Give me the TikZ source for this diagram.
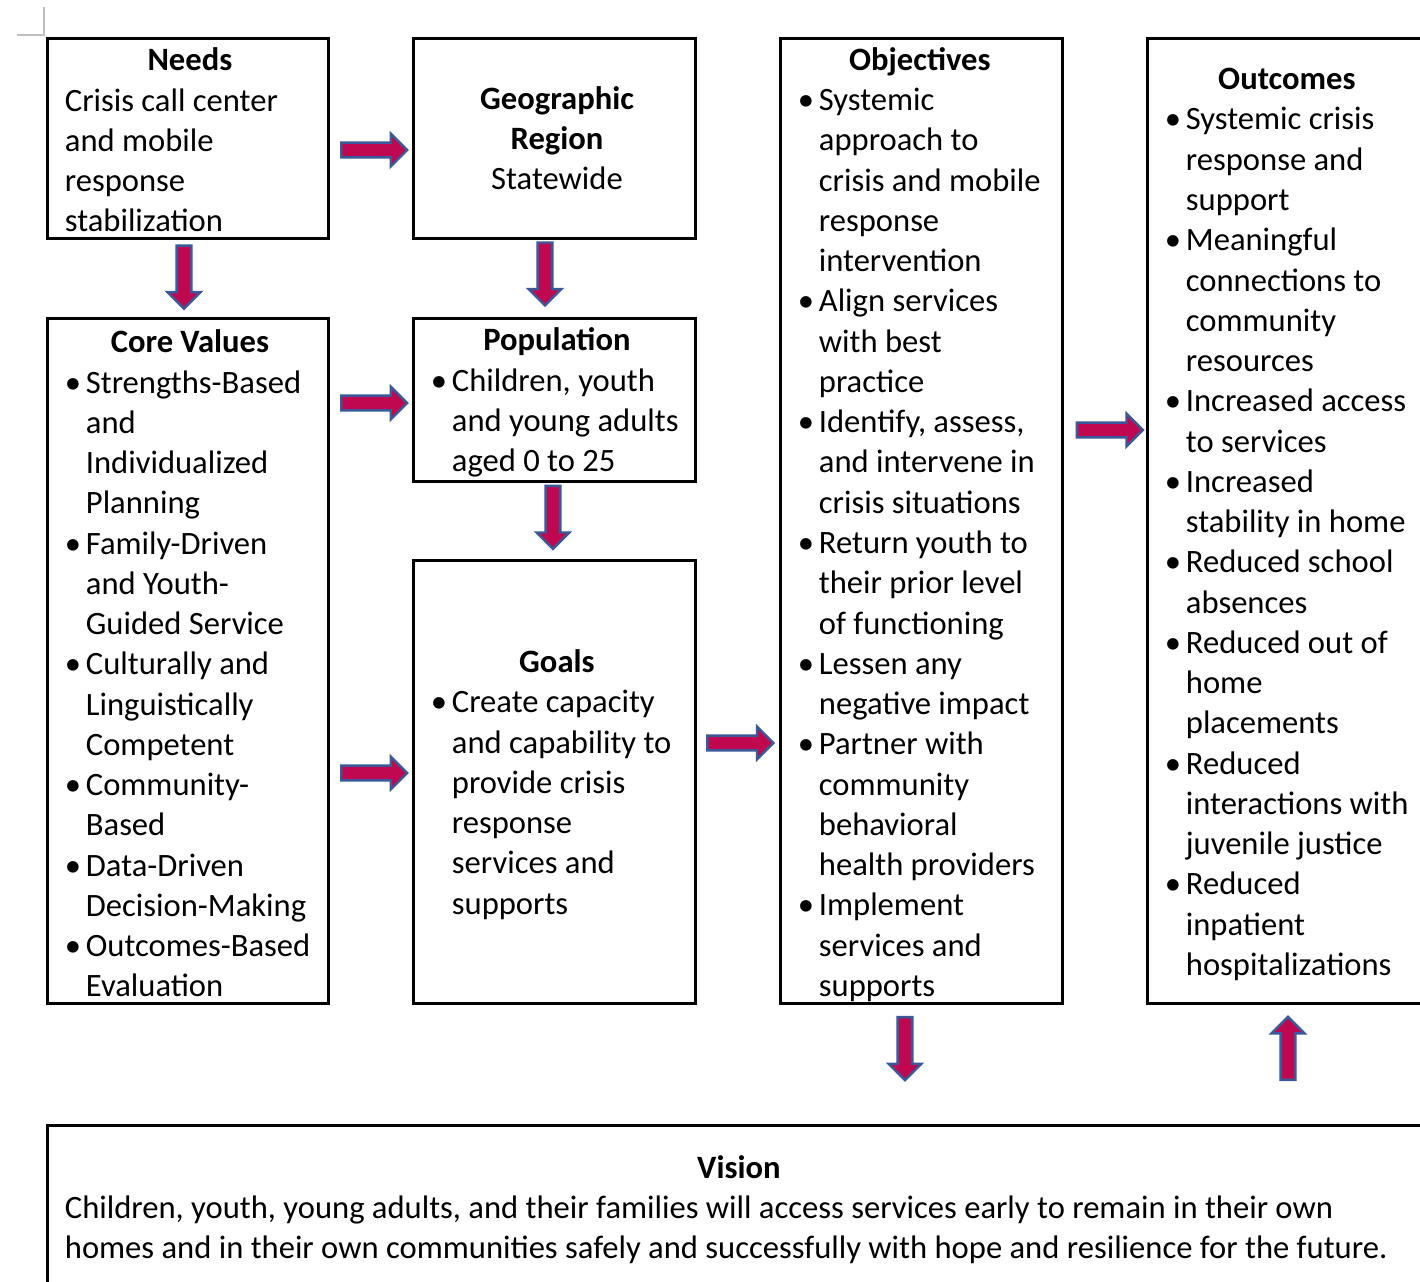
\documentclass[tikz,border=0pt]{standalone}
\usepackage{fontspec}
\setmainfont{Carlito}
\usetikzlibrary{shapes.arrows}
\definecolor{arrowfill}{HTML}{C00850}
\definecolor{arrowline}{HTML}{3B5998}
\newcommand{\bulitem}{\makebox[10.5pt][l]{\textbullet}}
\newcommand{\bulindent}{\hspace*{10.5pt}}
\newcommand{\boxtitle}[2]{\makebox[#1][c]{\bfseries #2}}
\begin{document}
\begin{tikzpicture}[x=0.5pt, y=-0.5pt,
  box/.style={draw, line width=1.5pt, inner sep=0pt},
  boxtext/.style={anchor=west, align=left, inner sep=0pt, font=\fontsize{16.3pt}{20.13pt}\selectfont},
  bigarrow/.style={single arrow, draw=arrowline, fill=arrowfill, line width=1.2pt, inner sep=0pt,
    minimum height=33pt, single arrow head extend=4.5pt, single arrow tip angle=90,
    text height=3.1pt, text depth=3.1pt, sloped},
  vbigarrow/.style={bigarrow, minimum height=31.5pt}]
\useasboundingbox (0,0) rectangle (1420,1281);
\clip (0,0) rectangle (1420,1281);

% boxes
\node[box, minimum width=140.5pt, minimum height=100pt] (needs) at (187.5,138) {};
\node[box, minimum width=141pt, minimum height=100pt] (georegion) at (554,138) {};
\node[box, minimum width=140.5pt, minimum height=342.5pt] (corevals) at (187.5,660.5) {};
\node[box, minimum width=141pt, minimum height=81.5pt] (population) at (554,399.5) {};
\node[box, minimum width=141pt, minimum height=221.5pt] (goals) at (554,781.5) {};
\node[box, minimum width=141pt, minimum height=482.5pt] (objectives) at (921,520.5) {};
\node[box, minimum width=141pt, minimum height=482.5pt] (outcomes) at (1288,520.5) {};
\node[box, minimum width=691.5pt, minimum height=82.5pt] (vision) at (738.5,1207.5) {};

% texts
\node[boxtext] (needs-text) at ([xshift=9.5pt,yshift=-1pt]needs.west)
  {\boxtitle{125pt}{Needs}\\ Crisis call center\\ and mobile\\ response\\ stabilization};
\node[boxtext, anchor=center, align=center] (georegion-text) at ([xshift=1.5pt]georegion.center)
  {\textbf{Geographic}\\ \textbf{Region}\\ Statewide};
\node[boxtext] (corevals-text) at ([xshift=9.5pt,yshift=-1.5pt]corevals.west)
  {\boxtitle{125pt}{Core Values}\\
   \bulitem Strengths-Based\\ \bulindent and\\ \bulindent Individualized\\ \bulindent Planning\\
   \bulitem Family-Driven\\ \bulindent and Youth-\\ \bulindent Guided Service\\
   \bulitem Culturally and\\ \bulindent Linguistically\\ \bulindent Competent\\
   \bulitem Community-\\ \bulindent Based\\
   \bulitem Data-Driven\\ \bulindent Decision-Making\\
   \bulitem Outcomes-Based\\ \bulindent Evaluation};
\node[boxtext] (population-text) at ([xshift=9.5pt,yshift=-1.5pt]population.west)
  {\boxtitle{126pt}{Population}\\
   \bulitem Children, youth\\ \bulindent and young adults\\ \bulindent aged 0 to 25};
\node[boxtext] (goals-text) at ([xshift=9.5pt,yshift=-1.5pt]goals.west)
  {\boxtitle{126pt}{Goals}\\
   \bulitem Create capacity\\ \bulindent and capability to\\ \bulindent provide crisis\\
   \bulindent response\\ \bulindent services and\\ \bulindent supports};
\node[boxtext] (objectives-text) at ([xshift=9.5pt,yshift=-2pt]objectives.west)
  {\boxtitle{122pt}{Objectives}\\
   \bulitem Systemic\\ \bulindent approach to\\ \bulindent crisis and mobile\\ \bulindent response\\ \bulindent intervention\\
   \bulitem Align services\\ \bulindent with best\\ \bulindent practice\\
   \bulitem Identify, assess,\\ \bulindent and intervene in\\ \bulindent crisis situations\\
   \bulitem Return youth to\\ \bulindent their prior level\\ \bulindent of functioning\\
   \bulitem Lessen any\\ \bulindent negative impact\\
   \bulitem Partner with\\ \bulindent community\\ \bulindent behavioral\\ \bulindent health providers\\
   \bulitem Implement\\ \bulindent services and\\ \bulindent supports};
\node[boxtext] (outcomes-text) at ([xshift=9.5pt,yshift=-2pt]outcomes.west)
  {\boxtitle{122pt}{Outcomes}\\
   \bulitem Systemic crisis\\ \bulindent response and\\ \bulindent support\\
   \bulitem Meaningful\\ \bulindent connections to\\ \bulindent community\\ \bulindent resources\\
   \bulitem Increased access\\ \bulindent to services\\
   \bulitem Increased\\ \bulindent stability in home\\
   \bulitem Reduced school\\ \bulindent absences\\
   \bulitem Reduced out of\\ \bulindent home\\ \bulindent placements\\
   \bulitem Reduced\\ \bulindent interactions with\\ \bulindent juvenile justice\\
   \bulitem Reduced\\ \bulindent inpatient\\ \bulindent hospitalizations};
\node[boxtext] (vision-text) at ([xshift=9.5pt,yshift=-1pt]vision.west)
  {\boxtitle{674pt}{Vision}\\
   Children, youth, young adults, and their families will access services early to remain in their own\\
   homes and in their own communities safely and successfully with hope and resilience for the future.};

% arrows
\path (needs.east |- 0,150) -- (georegion.west |- 0,150) node[bigarrow, pos=.5] {};
\path (needs.south -| 184,0) -- (corevals.north -| 184,0) node[vbigarrow, pos=.44] {};
\path (georegion.south -| 545,0) -- (population.north -| 545,0) node[vbigarrow, pos=.4] {};
\path (corevals.east |- 0,403) -- (population.west |- 0,403) node[bigarrow, pos=.5] {};
\path (population.south -| 553,0) -- (goals.north -| 553,0) node[vbigarrow, pos=.41] {};
\path (corevals.east |- 0,773) -- (goals.west |- 0,773) node[bigarrow, pos=.5] {};
\path (goals.east |- 0,743) -- (objectives.west |- 0,743) node[bigarrow, pos=.49] {};
\path (objectives.east |- 0,430) -- (outcomes.west |- 0,430) node[bigarrow, pos=.52] {};
\path (objectives.south -| 905,0) -- (vision.north -| 905,0) node[vbigarrow, pos=.34] {};
\path (vision.north -| outcomes.south) -- (outcomes.south) node[vbigarrow, pos=.6] {};

% text boundary mark
\draw[gray!50, line width=1pt] (17,35) -- (44,35) -- (44,7);
\end{tikzpicture}
\end{document}
